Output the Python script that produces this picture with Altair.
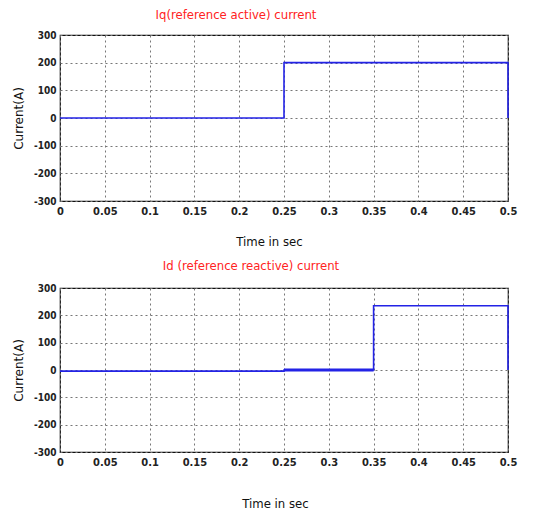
import altair as alt
import pandas as pd

# Panel 1: Iq (reference active) current
t_q = [0.0, 0.25, 0.25, 0.5, 0.5]
i_q = [0, 0, 200, 200, 0]

# Panel 2: Id (reference reactive) current
t_d = [0.0, 0.25, 0.25, 0.35, 0.35, 0.5, 0.5]
i_d = [-4, -4, 0, 0, 235, 235, 0]
# thicker (rippling) segment between 0.25 and 0.35
t_d_thick = [0.25, 0.35]
i_d_thick = [0, 0]

x_ticks = [0, 0.05, 0.1, 0.15, 0.2, 0.25, 0.3, 0.35, 0.4, 0.45, 0.5]
y_ticks = [-300, -200, -100, 0, 100, 200, 300]

FONT = "DejaVu Sans Condensed, Liberation Sans Narrow, Liberation Sans, sans-serif"
BLUE = "#2323e6"
W = 448


def panel(t, v, title, title_dx, title_offset, h, xt_y, xt_x, extra=None):
    df = pd.DataFrame({"t": t, "v": v, "o": list(range(len(t)))})
    x = alt.X("t:Q", scale=alt.Scale(domain=[0, 0.5], nice=False),
              axis=alt.Axis(values=x_ticks, title="Time in sec", labelFont=FONT,
                            labelFontSize=11, labelFontWeight="bold", labelColor="#222",
                            titleFont=FONT, titleFontSize=13, titleFontWeight="normal",
                            titleColor="#111", titleX=xt_x, titleY=xt_y,
                            titleBaseline="middle", labelPadding=4, tickSize=0,
                            gridColor="#777", gridDash=[2, 3], gridWidth=1,
                            domain=False, labelFlush=False, labelOverlap=False,
                            labelExpr="toString(datum.value)"))
    y = alt.Y("v:Q", scale=alt.Scale(domain=[-300, 300], nice=False),
              axis=alt.Axis(values=y_ticks, title="Current(A)", labelFont=FONT,
                            labelFontSize=10, labelFontWeight="bold", labelColor="#222",
                            titleFont="DejaVu Sans, sans-serif", titleFontSize=12,
                            titleFontWeight="normal", titleColor="#111",
                            titleX=-42, titleY=h / 2, titleAngle=270,
                            titleBaseline="middle", labelPadding=4, tickSize=0,
                            gridColor="#777", gridDash=[2, 3], gridWidth=1,
                            domain=False, labelFlush=False, labelOverlap=False,
                            labelExpr="toString(datum.value)"))
    line = alt.Chart(df).mark_line(color=BLUE, strokeWidth=1.6).encode(
        x=x, y=y, order="o:Q")
    layers = [line]
    if extra is not None:
        tx, vx = extra
        df2 = pd.DataFrame({"t": tx, "v": vx})
        layers.append(alt.Chart(df2).mark_line(color=BLUE, strokeWidth=3).encode(
            x=x, y=y))
    return alt.layer(*layers).properties(
        width=W, height=h,
        title=alt.TitleParams(title, color="#ff2222", font=FONT, fontSize=13,
                              fontWeight="normal", anchor="middle", dx=title_dx,
                              offset=title_offset),
    )


top = panel(t_q, i_q, "Iq(reference active) current", -48, 8, 166, 40, 209)
bottom = panel(t_d, i_d, "Id (reference reactive) current", -33, 10, 164, 51, 215,
               extra=(t_d_thick, i_d_thick))

chart = alt.vconcat(top, bottom, spacing=10).properties(
    padding={"left": 11, "top": 8, "right": 5, "bottom": 5},
    background="white",
).configure_view(stroke="#111", strokeWidth=1.2)

chart.save("out.html", embed_options={"renderer": "svg", "actions": False})
